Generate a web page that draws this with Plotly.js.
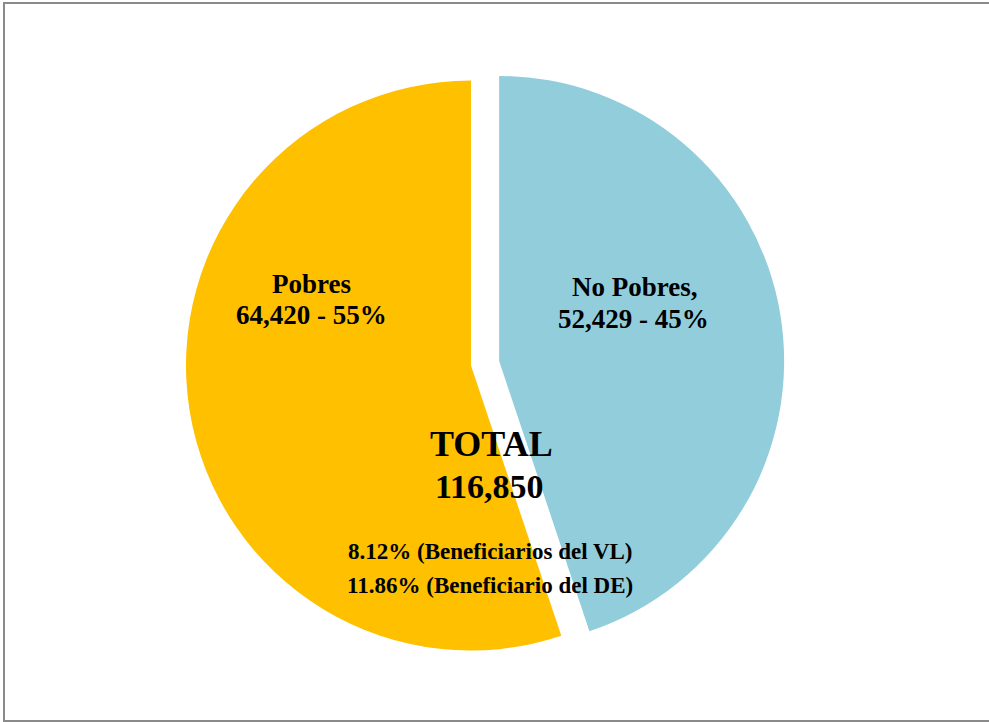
<!DOCTYPE html>
<html>
<head>
<meta charset="utf-8">
<script src="https://cdn.plot.ly/plotly-3.0.1.min.js"></script>
<style>
  html, body { margin: 0; padding: 0; background: #fff; overflow: hidden; }
  #wrap { position: relative; width: 989px; height: 722px; overflow: hidden; }
  #chart { width: 989px; height: 722px; }
  #frame { position: absolute; left: 3px; top: 2px; width: 1000px; height: 720px;
           border: 2px solid #8a8a8a; border-right: none; pointer-events: none; box-sizing: border-box; }
</style>
</head>
<body>
<div id="wrap"><div id="chart"></div><div id="frame"></div></div>
<script>
// ---- data ----
const categories = ["No Pobres", "Pobres"];
const displayLabels = ["No Pobres,", "Pobres"];
const values = [52429, 64420];
const percents = [45, 55];
const totalLabel = "TOTAL";
const totalValue = 116850;
const beneficiaryLines = ["8.12% (Beneficiarios del VL)", "11.86% (Beneficiario del DE)"];

// ---- styles ----
const colors = ["#92CDDC", "#FFC000"];
const W = 989, H = 722;
const serif = "Liberation Serif, Times New Roman, serif";
const fmt = v => v.toLocaleString("en-US");

const trace = {
  type: "pie",
  labels: categories,
  values: values,
  sort: false,
  direction: "clockwise",
  rotation: 0,
  pull: [0.1, 0],
  marker: { colors: colors, line: { width: 0 } },
  textinfo: "none",
  hoverinfo: "label+value+percent",
  showlegend: false,
  domain: { x: [71 / W, 871 / W], y: [43 / H, 670 / H] }
};

function ann(text, px, py, size) {
  return {
    xref: "paper", yref: "paper",
    x: px / W, y: 1 - py / H,
    xanchor: "center", yanchor: "middle",
    text: text, showarrow: false,
    font: { family: serif, size: size, color: "#000", weight: "bold" }
  };
}

const annotations = [
  ann(displayLabels[1], 311, 284, 27),
  ann(fmt(values[1]) + " - " + percents[1] + "%", 311, 315, 27),
  ann(displayLabels[0], 635, 287, 27),
  ann(fmt(values[0]) + " - " + percents[0] + "%", 633, 319, 27),
  ann(totalLabel, 491, 444, 36),
  ann(fmt(totalValue), 489, 486, 34),
  ann(beneficiaryLines[0], 490, 551, 23),
  ann(beneficiaryLines[1], 490, 585, 23)
];

const layout = {
  width: W, height: H,
  margin: { l: 0, r: 0, t: 0, b: 0 },
  paper_bgcolor: "#ffffff",
  plot_bgcolor: "#ffffff",
  showlegend: false,
  annotations: annotations
};

Plotly.newPlot("chart", [trace], layout, { displayModeBar: false, staticPlot: true });
</script>
</body>
</html>
